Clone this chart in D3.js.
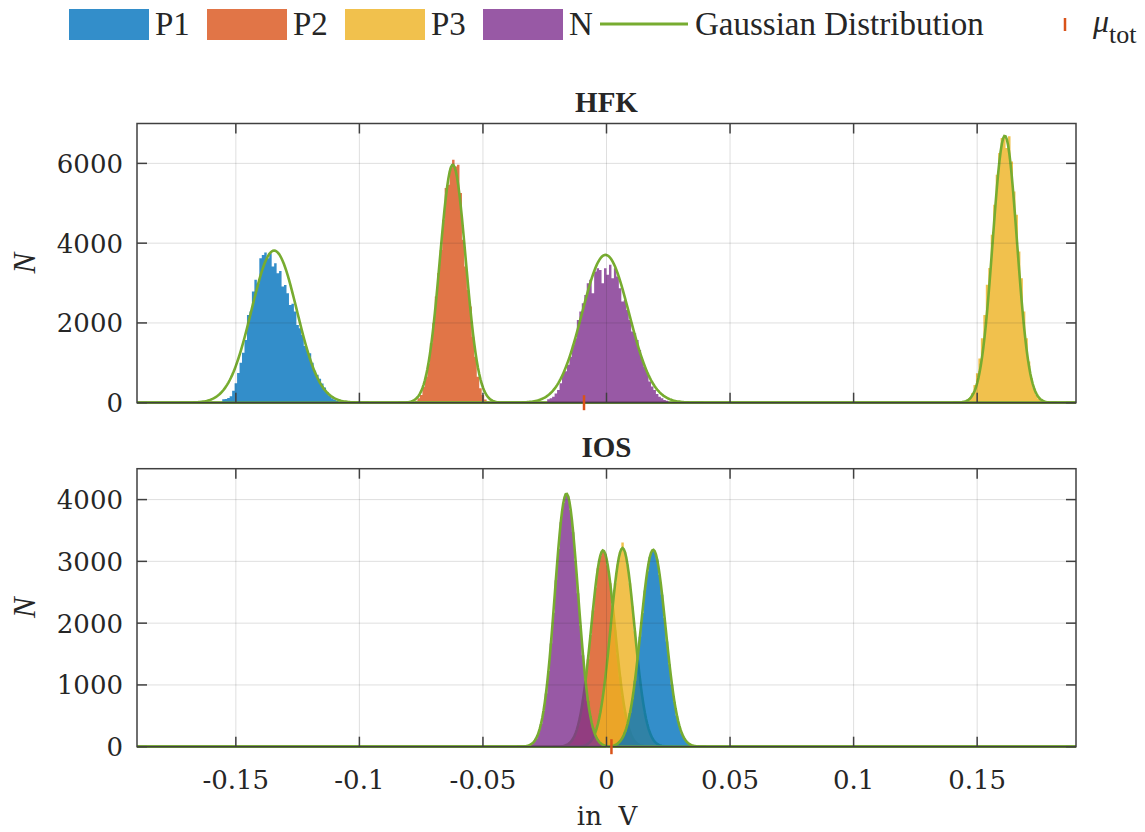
<!DOCTYPE html>
<html lang="en">
<head>
<meta charset="utf-8">
<script src="https://d3js.org/d3.v7.min.js"></script>
<style>
body { margin: 0; background: #fff; }
text { fill: #262626; }
</style>
</head>
<body>
<script>
// ---- data ----
const seriesNames = ["P1", "P2", "P3", "N"];
const seriesColors = ["#0072BD", "#D95319", "#EDB120", "#7E2F8E"];
const fitColor = "#77AC30";
const binWidth = 0.001;

const xTicks = [-0.15, -0.1, -0.05, 0, 0.05, 0.1, 0.15];
const xTickLabels = ["-0.15", "-0.1", "-0.05", "0", "0.05", "0.1", "0.15"];

// HFK histograms (counts per 1 mV bin), bin start in V
const hfkBinStart = [-0.1555, -0.0775, 0.1455, -0.024];
const hfkP1 = [85, 90, 120, 160, 300, 487, 745, 1000, 1250, 1573, 2200, 2284, 2786, 3080, 2990, 3623,
  3706, 3764, 3623, 3747, 3413, 3497, 3247, 3300, 2911, 2950, 2745, 2452, 2480, 2284, 1950, 1867,
  1700, 1420, 1300, 1240, 1000, 800, 700, 600, 480, 380, 270, 180, 110, 80, 50];
const hfkP2 = [50, 110, 190, 400, 650, 985, 1490, 1990, 2660, 3250, 3830, 4585, 5380, 5465, 5880,
  6090, 5925, 5965, 5255, 4085, 3415, 2830, 2410, 1655, 1155, 650, 360, 190, 80, 35];
const hfkP3 = [40, 110, 235, 445, 740, 1110, 1615, 2200, 2955, 3375, 4210, 4960, 5715, 6260, 6635,
  6635, 6385, 6680, 6050, 5295, 4710, 3790, 3120, 2285, 1615, 1030, 610, 360, 195, 95, 40];
const hfkN = [85, 110, 150, 230, 320, 487, 745, 790, 950, 1155, 1450, 1615, 2075, 2284, 2494, 2703,
  2996, 3080, 2745, 3289, 3372, 3330, 2996, 3372, 3205, 3456, 3121, 3372, 3163, 2870, 2536, 2578,
  2327, 2075, 1782, 1740, 1573, 1322, 1071, 904, 745, 529, 404, 320, 220, 150, 110, 70, 50];

// IOS histograms
const iosBinStart = [0.003, -0.018, -0.009, -0.032];
const iosP1 = [28, 50, 88, 147, 237, 367, 545, 778, 1066, 1405, 1779, 2165, 2530, 2841, 3067, 3178,
  3165, 3029, 2784, 2460, 2088, 1703, 1334, 1004, 726, 505, 337, 216, 133, 79, 45, 25];
const iosP2 = [11, 22, 42, 77, 132, 219, 348, 526, 765, 1064, 1416, 1807, 2206, 2579, 2887, 3095,
  3176, 3121, 2938, 2647, 2284, 1886, 1493, 1131, 820, 569, 378, 241, 147, 86, 48, 26, 13];
const iosP3 = [24, 46, 82, 141, 233, 367, 554, 802, 1110, 1472, 1868, 2272, 2645, 2948, 3146, 3306,
  3146, 2948, 2645, 2272, 1868, 1472, 1110, 802, 554, 367, 233, 141, 82, 46, 24];
const iosN = [20, 40, 75, 133, 228, 371, 578, 862, 1226, 1669, 2168, 2694, 3201, 3634, 3943, 4088,
  4051, 3837, 3473, 3006, 2485, 1963, 1482, 1070, 738, 487, 307, 185, 106, 58, 30];

// Gaussian fits: mean (V), standard deviation (V), peak height (N)
const hfkMu = [-0.1345, -0.0622, 0.1612, -0.0004];
const hfkSigma = [0.0092, 0.0052, 0.0049, 0.0095];
const hfkPeak = [3814, 5965, 6692, 3706];
const iosMu = [0.0189, -0.0014, 0.0065, -0.0162];
const iosSigma = [0.0050, 0.0048, 0.0048, 0.0047];
const iosPeak = [3188, 3177, 3215, 4096];

// overall mean per panel
const muTot = [-0.0091, 0.0020];

const panelTitles = ["HFK", "IOS"];
const hfkYTicks = [0, 2000, 4000, 6000];
const iosYTicks = [0, 1000, 2000, 3000, 4000];

// ---- layout ----
const W = 1145, H = 832;
const serif = "'DejaVu Serif', serif";
const serif2 = "'Liberation Serif', serif";
const axisColor = "#404040";

const svg = d3.select("body").append("svg")
  .attr("width", W).attr("height", H);

const x = d3.scaleLinear().domain([-0.19, 0.19]).range([137, 1076]);

const panels = [
  { title: panelTitles[0], top: 123.5, bottom: 402.7, yMax: 7000, yTicks: hfkYTicks,
    starts: hfkBinStart, hists: [hfkP1, hfkP2, hfkP3, hfkN],
    mu: hfkMu, sigma: hfkSigma, peak: hfkPeak, mt: muTot[0], labels: false },
  { title: panelTitles[1], top: 468.7, bottom: 746.7, yMax: 4500, yTicks: iosYTicks,
    starts: iosBinStart, hists: [iosP1, iosP2, iosP3, iosN],
    mu: iosMu, sigma: iosSigma, peak: iosPeak, mt: muTot[1], labels: true }
];

// draw order, so that overlaps look like the reference (P2, P3, P1, N)
const drawOrder = [1, 2, 0, 3];
const xs = d3.range(-0.19, 0.19 + 1e-9, 0.0005);

panels.forEach(p => {
  const y = d3.scaleLinear().domain([0, p.yMax]).range([p.bottom, p.top]);
  const g = svg.append("g");

  g.append("defs").append("clipPath").attr("id", "clip-" + p.title)
    .append("rect").attr("x", x.range()[0]).attr("y", p.top)
    .attr("width", x.range()[1] - x.range()[0]).attr("height", p.bottom - p.top + 2);

  const plot = g.append("g").attr("clip-path", "url(#clip-" + p.title + ")");

  const area = d3.area().curve(d3.curveStepAfter)
    .x(d => x(d[0])).y0(y(0)).y1(d => y(d[1]));

  drawOrder.forEach(k => {
    const counts = p.hists[k];
    const pts = counts.map((c, i) => [p.starts[k] + i * binWidth, c]);
    pts.push([p.starts[k] + counts.length * binWidth, 0]);
    plot.append("path")
      .attr("d", area(pts))
      .attr("fill", seriesColors[k])
      .attr("fill-opacity", 0.8);

    const curve = xs.map(v => [v, p.peak[k] * Math.exp(-0.5 * Math.pow((v - p.mu[k]) / p.sigma[k], 2))]);
    plot.append("path")
      .attr("d", d3.line().x(d => x(d[0])).y(d => y(d[1]))(curve))
      .attr("fill", "none")
      .attr("stroke", fitColor)
      .attr("stroke-width", 2.6);
  });

  // grid
  g.selectAll(null).data(xTicks).enter().append("line")
    .attr("x1", d => x(d)).attr("x2", d => x(d))
    .attr("y1", p.top).attr("y2", p.bottom)
    .attr("stroke", "#262626").attr("stroke-opacity", 0.15).attr("stroke-width", 1);
  g.selectAll(null).data(p.yTicks.filter(d => d > 0)).enter().append("line")
    .attr("x1", x.range()[0]).attr("x2", x.range()[1])
    .attr("y1", d => y(d)).attr("y2", d => y(d))
    .attr("stroke", "#262626").attr("stroke-opacity", 0.15).attr("stroke-width", 1);

  // box
  g.append("rect")
    .attr("x", x.range()[0]).attr("y", p.top)
    .attr("width", x.range()[1] - x.range()[0]).attr("height", p.bottom - p.top)
    .attr("fill", "none").attr("stroke", axisColor).attr("stroke-width", 1.5);

  // inward ticks on all four sides
  const tl = 10;
  xTicks.forEach(t => {
    g.append("line").attr("x1", x(t)).attr("x2", x(t)).attr("y1", p.bottom).attr("y2", p.bottom - tl)
      .attr("stroke", axisColor).attr("stroke-width", 1.5);
    g.append("line").attr("x1", x(t)).attr("x2", x(t)).attr("y1", p.top).attr("y2", p.top + tl)
      .attr("stroke", axisColor).attr("stroke-width", 1.5);
  });
  p.yTicks.forEach(t => {
    g.append("line").attr("x1", x.range()[0]).attr("x2", x.range()[0] + tl).attr("y1", y(t)).attr("y2", y(t))
      .attr("stroke", axisColor).attr("stroke-width", 1.5);
    g.append("line").attr("x1", x.range()[1]).attr("x2", x.range()[1] - tl).attr("y1", y(t)).attr("y2", y(t))
      .attr("stroke", axisColor).attr("stroke-width", 1.5);
  });

  // y tick labels
  g.selectAll(null).data(p.yTicks).enter().append("text")
    .attr("x", 123).attr("y", d => y(d)).attr("dy", "0.36em")
    .attr("text-anchor", "end")
    .style("font-family", serif).style("font-size", "26px")
    .text(d => d);

  // mean marker
  g.append("line")
    .attr("x1", x(p.mt)).attr("x2", x(p.mt))
    .attr("y1", y(0) - 7.5).attr("y2", y(0) + 7.5)
    .attr("stroke", "#D95319").attr("stroke-width", 2.5);

  // title
  g.append("text")
    .attr("x", (x.range()[0] + x.range()[1]) / 2).attr("y", p.top - 12)
    .attr("text-anchor", "middle")
    .style("font-family", serif2).style("font-size", "29px").style("font-weight", "bold")
    .text(p.title);

  // y label
  g.append("text")
    .attr("transform", `translate(35,${(p.top + p.bottom) / 2}) rotate(-90)`)
    .attr("text-anchor", "middle")
    .style("font-family", serif2).style("font-size", "31px").style("font-style", "italic")
    .text("N");

  if (p.labels) {
    g.selectAll(null).data(xTicks).enter().append("text")
      .attr("x", d => x(d)).attr("y", p.bottom + 42)
      .attr("text-anchor", "middle")
      .style("font-family", serif).style("font-size", "26px")
      .text((d, i) => xTickLabels[i]);
  }
});

// x label
svg.append("text")
  .attr("x", 607).attr("y", 825)
  .attr("text-anchor", "middle")
  .attr("xml:space", "preserve")
  .style("font-family", serif).style("font-size", "26px")
  .style("white-space", "pre")
  .text("in  V");

// ---- legend ----
const legend = svg.append("g");
const patchX = [69, 207, 345, 483];
seriesNames.forEach((s, i) => {
  legend.append("rect").attr("x", patchX[i]).attr("y", 9).attr("width", 80).attr("height", 31)
    .attr("fill", seriesColors[i]).attr("fill-opacity", 0.8);
  legend.append("text").attr("x", patchX[i] + 86).attr("y", 35)
    .style("font-family", serif2).style("font-size", "33px").text(s);
});
legend.append("line").attr("x1", 600).attr("x2", 688).attr("y1", 24).attr("y2", 24)
  .attr("stroke", fitColor).attr("stroke-width", 3);
legend.append("text").attr("x", 695).attr("y", 35)
  .style("font-family", serif2).style("font-size", "33px").text("Gaussian Distribution");
legend.append("line").attr("x1", 1065).attr("x2", 1065).attr("y1", 18).attr("y2", 31)
  .attr("stroke", "#D95319").attr("stroke-width", 2.5);
const mt = legend.append("text").attr("x", 1093).attr("y", 32)
  .style("font-family", serif2).style("font-size", "32px");
mt.append("tspan").style("font-style", "italic").text("μ");
mt.append("tspan").attr("dy", 11).style("font-size", "26px").text("tot");
</script>
</body>
</html>
